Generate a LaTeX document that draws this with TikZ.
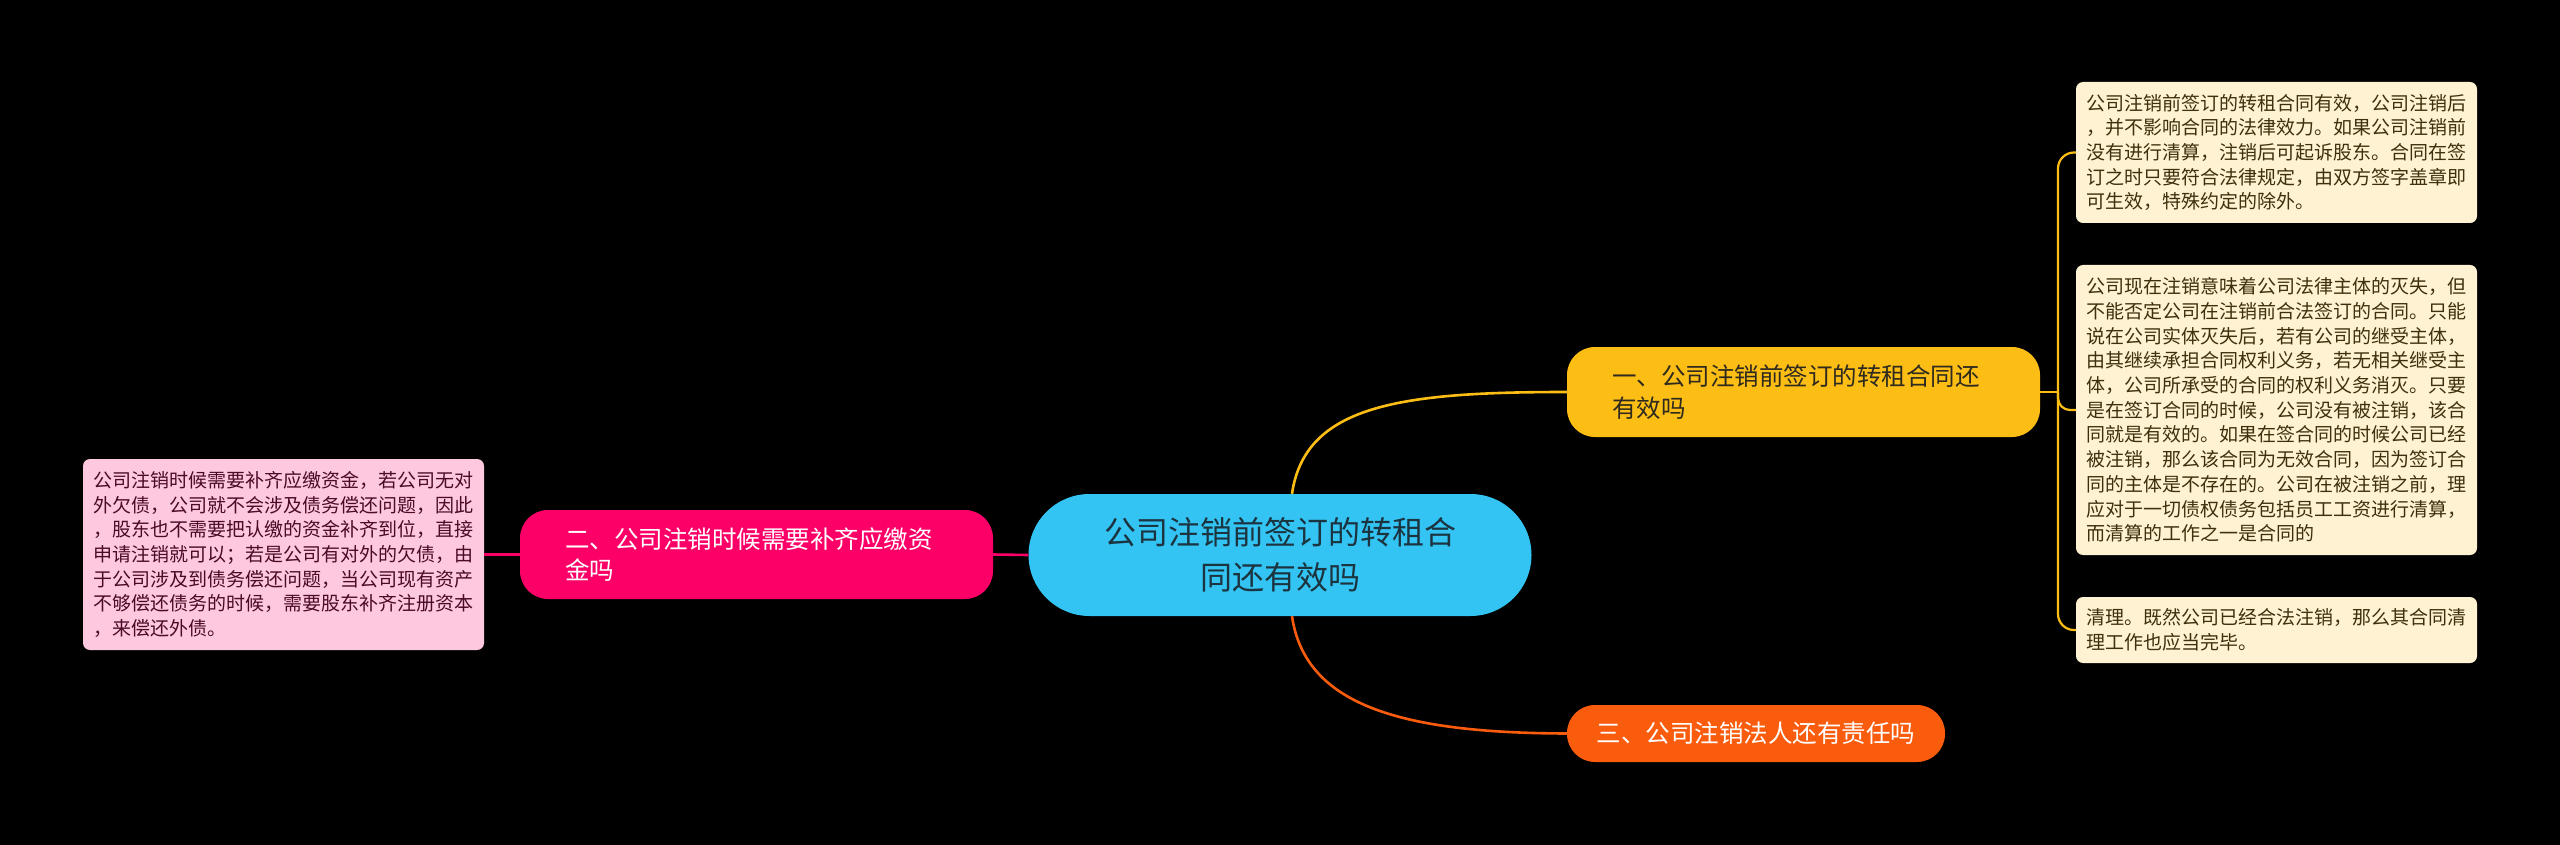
\documentclass[tikz,border=0pt]{standalone}
\usepackage{fontspec}
\newfontfamily\cjk{Noto Sans CJK SC}
\definecolor{bg}{HTML}{000000}
\definecolor{rootc}{HTML}{33C4F3}
\definecolor{roott}{HTML}{1B3440}
\definecolor{yel}{HTML}{FCBD15}
\definecolor{pinkc}{HTML}{FC0068}
\definecolor{orac}{HTML}{FA5C0E}
\definecolor{cream}{HTML}{FEF2D3}
\definecolor{creamt}{HTML}{3E300C}
\definecolor{lpink}{HTML}{FEC8DE}
\definecolor{lpinkt}{HTML}{4A0A28}
\definecolor{darkt}{HTML}{2E2A1E}
\tikzset{
  every node/.style={font=\cjk},
  root/.style={fill=rootc, draw=none, rounded corners=61pt, minimum width=503pt, minimum height=122pt, align=center, text=roott, font=\cjk\fontsize{32}{45}\selectfont, inner sep=0pt},
  topic/.style={draw=none, rounded corners=28pt, align=left, font=\cjk\fontsize{24.5}{31.5}\selectfont, inner sep=0pt},
  note/.style={draw=none, rounded corners=7pt, align=left, font=\cjk\fontsize{19}{24.7}\selectfont, inner sep=0pt, minimum width=401pt},
  yline/.style={draw=yel, line width=2.6pt},
  pline/.style={draw=pinkc, line width=2.6pt},
  oline/.style={draw=orac, line width=2.6pt},
}
\begin{document}
\begin{tikzpicture}[x=1pt,y=-1pt]
\fill[bg] (0,0) rectangle (2560,845);
\useasboundingbox (0,0) rectangle (2560,845);

% root
\node[root] (root) at (1280,555) {公司注销前签订的转租合\\同还有效吗};

% main topics
\node[topic, fill=yel, text=darkt, minimum width=473pt, minimum height=90pt, text width=383pt] (n1) at (1803.5,392) {一、公司注销前签订的转租合同还\\有效吗};
\node[topic, fill=pinkc, text=white, minimum width=473pt, minimum height=89pt, text width=383pt] (n2) at (756.5,554.5) {二、公司注销时候需要补齐应缴资\\金吗};
\node[topic, fill=orac, text=white, minimum width=378pt, minimum height=57pt, align=center] (n3) at (1756,733.5) {三、公司注销法人还有责任吗};

% notes right
\node[note, fill=cream, text=creamt, minimum height=141pt, text width=381pt] (bA) at (2276.5,152.5) {公司注销前签订的转租合同有效，公司注销后\\，并不影响合同的法律效力。如果公司注销前\\没有进行清算，注销后可起诉股东。合同在签\\订之时只要符合法律规定，由双方签字盖章即\\可生效，特殊约定的除外。};
\node[note, fill=cream, text=creamt, minimum height=290pt, text width=381pt] (bB) at (2276.5,410) {公司现在注销意味着公司法律主体的灭失，但\\不能否定公司在注销前合法签订的合同。只能\\说在公司实体灭失后，若有公司的继受主体，\\由其继续承担合同权利义务，若无相关继受主\\体，公司所承受的合同的权利义务消灭。只要\\是在签订合同的时候，公司没有被注销，该合\\同就是有效的。如果在签合同的时候公司已经\\被注销，那么该合同为无效合同，因为签订合\\同的主体是不存在的。公司在被注销之前，理\\应对于一切债权债务包括员工工资进行清算，\\而清算的工作之一是合同的};
\node[note, fill=cream, text=creamt, minimum height=66pt, text width=381pt] (bC) at (2276.5,630) {清理。既然公司已经合法注销，那么其合同清\\理工作也应当完毕。};

% note left
\node[note, fill=lpink, text=lpinkt, minimum height=191pt, text width=381pt] (bD) at (283.5,554.5) {公司注销时候需要补齐应缴资金，若公司无对\\外欠债，公司就不会涉及债务偿还问题，因此\\，股东也不需要把认缴的资金补齐到位，直接\\申请注销就可以；若是公司有对外的欠债，由\\于公司涉及到债务偿还问题，当公司现有资产\\不够偿还债务的时候，需要股东补齐注册资本\\，来偿还外债。};

% connectors
\draw[yline] ([xshift=12pt]root.north) .. controls (1305,405) and (1400,392) .. (n1.west);
\draw[oline] ([xshift=12pt]root.south) .. controls (1305,705) and (1400,733) .. (n3.west);
\draw[pline] (root.west) -- (n2.east);
\draw[pline] (n2.west) -- (bD.east);

\coordinate (j) at (2058,392);
\draw[yline, line width=2.2pt] (n1.east) -- (j);
\draw[yline, line width=2.2pt, rounded corners=16pt] (j) |- (bA.west);
\draw[yline, line width=2.2pt, rounded corners=12pt] (j) |- (bB.west);
\draw[yline, line width=2.2pt, rounded corners=16pt] (j) |- (bC.west);
\end{tikzpicture}
\end{document}
